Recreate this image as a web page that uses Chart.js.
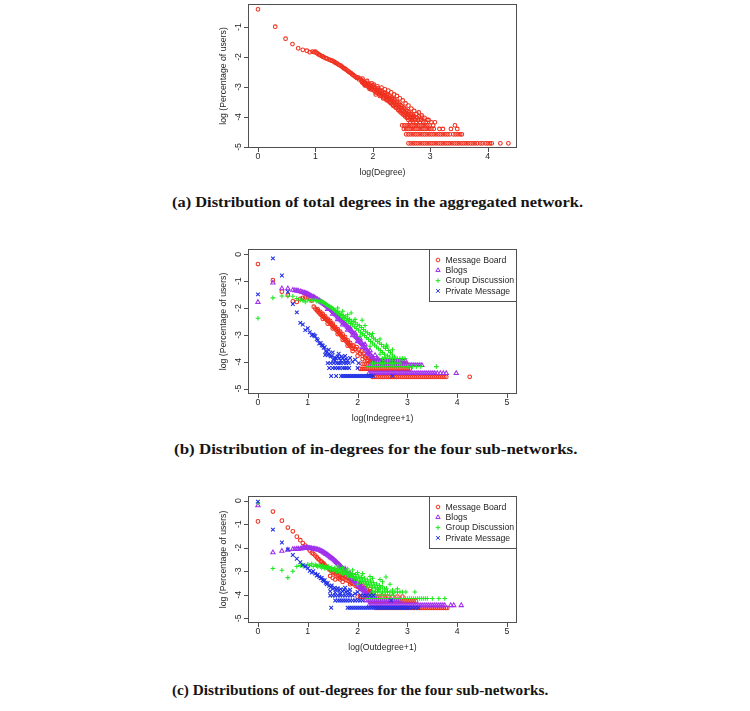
<!DOCTYPE html>
<html lang="en">
<head>
<meta charset="UTF-8">
<title>Degree distributions</title>
<script src="https://cdn.jsdelivr.net/npm/chart.js"></script>
<style>
  body { margin: 0; background: #fff; }
  #page { position: relative; width: 750px; height: 711px; overflow: hidden; background: #fff; }
  canvas { position: absolute; left: 0; }
  .cap { position: absolute; left: 172px; font-family: "Liberation Serif", "Times New Roman", serif; font-weight: bold;
         font-size: 15.5px; line-height: 20px; color: #151515; white-space: nowrap; transform-origin: 0 50%; }
</style>
</head>
<body>
<div id="page">
  <canvas id="total" width="750" height="185" style="top:0px"></canvas>
  <div class="cap" id="capA" style="top:192px">(a) Distribution of total degrees in the aggregated network.</div>
  <canvas id="indeg" width="750" height="200" style="top:235px"></canvas>
  <div class="cap" id="capB" style="top:439px; left:174px">(b) Distribution of in-degrees for the four sub-networks.</div>
  <canvas id="outdeg" width="750" height="195" style="top:482px"></canvas>
  <div class="cap" id="capC" style="top:680px">(c) Distributions of out-degrees for the four sub-networks.</div>
</div>

<script>
// ---- data (log10 values) ----
const seriesNames = ['Message Board', 'Blogs', 'Group Discussion', 'Private Message'];
const totalXTicks = [0, 1, 2, 3, 4];
const totalYTicks = [-1, -2, -3, -4, -5];
const subXTicks = [0, 1, 2, 3, 4, 5];
const subYTicks = [0, -1, -2, -3, -4, -5];

// (a) total degree
const totalPts = [[0,-0.41],[0.30,-0.99],[0.48,-1.39],[0.60,-1.57],[0.70,-1.71],[0.78,-1.76],[0.85,-1.79],[0.90,-1.84],
  [0.95,-1.82],[0.98,-1.84],[1.00,-1.82],[1.02,-1.86],[1.04,-1.89],[1.06,-1.92],[1.08,-1.94],[1.11,-1.97],[1.13,-1.99],
  [1.15,-2.01],[1.18,-2.04],[1.20,-2.05],[1.23,-2.08],[1.26,-2.10],[1.28,-2.12],[1.30,-2.13],[1.32,-2.15],[1.34,-2.18],
  [1.36,-2.20],[1.38,-2.22],[1.40,-2.25],[1.42,-2.27],[1.44,-2.29],[1.46,-2.32],[1.48,-2.35],[1.50,-2.38],[1.52,-2.40],
  [1.54,-2.43],[1.56,-2.46],[1.58,-2.49],[1.60,-2.52],[1.62,-2.54],[1.64,-2.58],[1.66,-2.60],[1.68,-2.64],[1.70,-2.66],
  [1.72,-2.70],[1.74,-2.68],[1.76,-2.75],[1.78,-2.72],
  [1.80,-2.78],[1.81,-2.84],[1.82,-2.80],[1.83,-2.87],[1.84,-2.83],[1.85,-2.90],[1.86,-2.85],[1.87,-2.93],[1.88,-2.88],
  [1.89,-2.95],[1.90,-2.86],[1.91,-2.98],[1.92,-2.92],[1.93,-3.00],[1.94,-2.90],[1.95,-3.03],[1.96,-2.96],[1.97,-3.08],
  [1.98,-2.99],[1.99,-3.05],[2.00,-2.95],[2.01,-3.10],[2.02,-3.02],[2.03,-3.14],[2.04,-3.05],[2.05,-3.18],[2.06,-3.08],
  [2.07,-3.12],[2.08,-3.20],[2.09,-3.04],[2.10,-3.15],[2.11,-3.24],[2.12,-3.10],[2.13,-3.20],[2.14,-3.28],[2.15,-3.14],
  [2.16,-3.22],[2.17,-3.32],[2.18,-3.18],[2.19,-3.26],[2.20,-3.36],[2.21,-3.20],[2.22,-3.30],[2.23,-3.40],[2.24,-3.25],
  [2.25,-3.34],[2.26,-3.45],[2.27,-3.28],[2.28,-3.38],[2.29,-3.50],[2.30,-3.32],[2.31,-3.42],[2.32,-3.55],[2.33,-3.36],
  [2.34,-3.47],[2.35,-3.60],[2.36,-3.40],[2.37,-3.52],[2.38,-3.65],[2.39,-3.45],[2.40,-3.58],[2.41,-3.70],[2.42,-3.50],
  [2.43,-3.62],[2.44,-3.76],[2.45,-3.55],[2.46,-3.68],[2.47,-3.82],[2.48,-3.60],[2.49,-3.72],[2.50,-3.88],[2.51,-3.65],
  [2.52,-3.78],[2.53,-3.92],[2.54,-3.70],[2.55,-3.84],[2.56,-3.98],[2.57,-3.75],[2.58,-3.88],[2.59,-4.03],[2.60,-3.80],
  [2.61,-3.92],[2.62,-4.10],[2.63,-3.85],[2.64,-3.98],[2.65,-4.18],[2.66,-3.90],[2.67,-4.03],[2.68,-4.10],[2.69,-3.95],
  [2.70,-4.18],[2.71,-4.05],[2.72,-3.98],[2.74,-4.10],[2.75,-4.18],[2.77,-4.03],[2.79,-4.10],[2.80,-3.98],[2.82,-4.18],
  [2.84,-4.10],[2.86,-4.03],[2.88,-4.18],
  [1.82,-2.72],[1.86,-2.95],[1.90,-2.80],[1.94,-3.06],[1.98,-2.88],[2.02,-2.92],[2.05,-3.25],[2.08,-2.98],[2.12,-3.30],
  [2.15,-3.02],[2.18,-3.38],[2.21,-3.08],[2.24,-3.44],[2.27,-3.12],[2.30,-3.52],[2.32,-3.18],[2.35,-3.62],[2.37,-3.25],
  [2.40,-3.68],[2.42,-3.30],[2.45,-3.78],[2.47,-3.38],[2.50,-3.80],[2.52,-3.45],[2.55,-3.92],[2.57,-3.55],[2.60,-4.00],
  [2.62,-3.62],[2.65,-4.05],[2.67,-3.72],[2.70,-4.00],[2.72,-3.80],[2.76,-3.90],[2.80,-3.85],[2.85,-3.95],[2.90,-4.03],
  [2.95,-4.10],[2.92,-4.18],[2.97,-4.10],[3.02,-4.18],[3.05,-4.28],[3.08,-4.18]];
const totalLevels = [-4.88, -4.58, -4.40, -4.28];
const totalRowX = [
  [2.62,2.66,2.70,2.74,2.78,2.82,2.86,2.90,2.94,2.98,3.02,3.06,3.10,3.14,3.18,3.22,3.26,3.30,3.34,3.38,3.42,3.46,3.50,
   3.54,3.58,3.62,3.66,3.70,3.74,3.78,3.82,3.87,3.91,3.96,4.00,4.04,4.07,4.22,4.36],
  [2.58,2.62,2.66,2.70,2.74,2.78,2.82,2.86,2.90,2.94,2.98,3.02,3.06,3.10,3.14,3.18,3.22,3.26,3.30,3.34,3.40,3.44,3.48,3.52,3.55],
  [2.54,2.58,2.62,2.66,2.70,2.74,2.78,2.82,2.86,2.90,2.94,2.98,3.02,3.06,3.16,3.22,3.36,3.47],
  [2.51,2.55,2.59,2.63,2.67,2.71,2.75,2.79,2.83,2.87,2.91,2.95,2.99,3.43]
];

// (b) in-degree
const inMbPts = [[0,-0.36],[0.30,-0.96],[0.48,-1.39],[0.60,-1.52],[0.70,-1.75],[0.78,-1.77],[0.85,-1.66],[0.90,-1.62],
  [0.95,-1.60],[1.00,-1.59],[1.04,-1.63],[1.08,-1.72],[1.12,-1.95],[1.15,-2.02],[1.18,-2.08],[1.20,-2.12],[1.22,-2.16],
  [1.24,-2.20],[1.26,-2.24],[1.28,-2.27],[1.30,-2.30],[1.32,-2.33],[1.34,-2.37],[1.36,-2.40],[1.38,-2.44],[1.40,-2.47],
  [1.42,-2.50],[1.44,-2.55],[1.46,-2.58],[1.48,-2.62],[1.50,-2.66],[1.52,-2.71],[1.54,-2.74],[1.56,-2.79],[1.58,-2.82],
  [1.60,-2.87],[1.62,-2.91],[1.64,-2.95],[1.66,-2.99],[1.68,-3.04],[1.70,-3.08],[1.72,-3.12],[1.74,-3.16],[1.76,-3.21],
  [1.78,-3.25],[1.80,-3.29],[1.82,-3.34],[1.84,-3.38],[1.86,-3.42],[1.88,-3.47],[1.90,-3.51],
  [1.45,-2.48],[1.55,-2.70],[1.65,-2.88],[1.75,-3.08],[1.85,-3.30],[1.92,-3.40],[1.95,-3.52],[1.98,-3.45],[2.00,-3.62],
  [2.02,-3.55],[2.05,-3.70],[2.08,-3.62],[2.10,-3.78],[2.12,-3.70],[2.15,-3.85],[2.18,-3.78],[2.20,-3.92],[2.22,-3.85],
  [2.25,-3.96],[2.28,-3.90],[2.30,-3.96],
  [1.20,-2.05],[1.25,-2.14],[1.30,-2.22],[1.35,-2.31],[1.40,-2.40],[1.50,-2.58],[1.60,-2.78],[1.70,-2.98],[1.80,-3.20],
  [1.90,-3.40],[1.30,-2.40],[1.40,-2.58],[1.50,-2.76],[1.60,-2.97],[1.70,-3.18],[1.80,-3.40],[1.90,-3.60],[2.00,-3.78],[2.10,-3.90]];
const inMbLevels = [-4.56, -4.26, -4.08, -3.96];
const inMbRowX = [
  [2.30,2.34,2.38,2.42,2.46,2.50,2.54,2.58,2.62,2.66,2.70,2.74,2.78,2.82,2.86,2.90,2.94,2.98,3.02,3.06,3.10,3.14,3.18,
   3.22,3.26,3.30,3.34,3.38,3.42,3.46,3.50,3.54,3.58,3.62,3.66,3.70,3.74,3.78,4.25],
  [2.05,2.09,2.13,2.17,2.21,2.25,2.29,2.33,2.37,2.41,2.45,2.49,2.53,2.57,2.61,2.65,2.69,2.73,2.77,2.81,2.85,2.89,2.93,2.97,3.01,3.05],
  [2.10,2.14,2.18,2.22,2.26,2.30,2.34,2.38,2.42,2.46,2.50,2.54,2.58,2.62,2.66,2.70,2.74,2.78,2.82,2.86,2.90,2.94,2.98],
  [2.20,2.28,2.36,2.44,2.52,2.60,2.70]
];
const inBlPts = [[0,-1.78],[0.30,-1.06],[0.48,-1.27],[0.60,-1.27],[0.70,-1.33],[0.74,-1.34],[0.78,-1.35],[0.81,-1.36],
  [0.85,-1.38],[0.88,-1.40],[0.90,-1.41],[0.93,-1.43],[0.95,-1.45],[0.98,-1.46],[1.00,-1.48],[1.02,-1.50],[1.04,-1.52],
  [1.06,-1.54],[1.08,-1.56],[1.11,-1.58],[1.13,-1.61],[1.15,-1.63],[1.18,-1.66],[1.20,-1.68],[1.23,-1.72],[1.26,-1.76],
  [1.28,-1.79],[1.30,-1.81],[1.32,-1.84],[1.34,-1.86],[1.36,-1.89],[1.38,-1.92],[1.40,-1.95],[1.42,-1.97],[1.44,-2.01],
  [1.46,-2.04],[1.48,-2.08],[1.50,-2.12],[1.52,-2.16],[1.54,-2.20],[1.56,-2.24],[1.58,-2.28],[1.60,-2.32],[1.62,-2.36],
  [1.64,-2.40],[1.66,-2.43],[1.68,-2.47],[1.70,-2.51],[1.72,-2.55],[1.74,-2.58],[1.76,-2.62],[1.78,-2.66],[1.80,-2.70],
  [1.82,-2.74],[1.84,-2.78],[1.86,-2.82],[1.88,-2.86],[1.90,-2.91],[1.92,-2.95],[1.94,-3.00],[1.96,-3.04],[1.98,-3.09],
  [2.00,-3.13],[2.02,-3.18],[2.04,-3.22],[2.06,-3.27],[2.08,-3.31],[2.10,-3.36],[2.12,-3.40],[2.14,-3.45],[2.16,-3.50],
  [2.18,-3.55],[2.20,-3.60],[2.22,-3.64],[2.24,-3.70],[2.26,-3.74],[2.28,-3.80],[2.30,-3.84],[2.32,-3.90],[2.34,-3.95],
  [2.36,-4.00],[1.85,-2.74],[1.95,-2.94],[2.05,-3.14],[2.15,-3.36],[2.25,-3.58],[2.35,-3.76],[2.40,-3.88],[2.45,-3.98],[2.50,-4.05],
  [1.40,-2.04],[1.50,-2.22],[1.60,-2.42],[1.70,-2.62],[1.80,-2.82],[1.90,-3.02],[2.00,-3.24],[2.10,-3.46],[2.20,-3.70]];
const inBlLevels = [-4.43, -4.13, -3.96];
const inBlRowX = [
  [2.23,2.27,2.31,2.35,2.39,2.43,2.47,2.51,2.55,2.59,2.63,2.67,2.71,2.75,2.79,2.83,2.87,2.91,2.95,2.99,3.03,3.07,3.11,
   3.15,3.19,3.23,3.27,3.31,3.35,3.39,3.43,3.47,3.51,3.55,3.60,3.66,3.72,3.78,3.98],
  [2.25,2.29,2.33,2.37,2.41,2.45,2.49,2.53,2.57,2.61,2.65,2.69,2.73,2.77,2.81,2.85,2.89,2.93,2.97,3.01,3.05,3.09,3.13,3.17,3.21,3.25,3.29],
  [2.36,2.40,2.44,2.48,2.52,2.56,2.60,2.64,2.68,2.72,2.76,2.80,2.84,2.88,2.92,2.96]
];
const inGdPts = [[0,-2.38],[0.30,-1.62],[0.48,-1.55],[0.60,-1.56],[0.70,-1.56],[0.78,-1.64],[0.85,-1.70],[0.90,-1.72],
  [0.95,-1.77],[1.00,-1.70],[1.04,-1.72],[1.08,-1.70],[1.11,-1.72],[1.15,-1.70],[1.18,-1.74],[1.20,-1.72],[1.23,-1.76],
  [1.26,-1.74],[1.28,-1.78],[1.30,-1.77],[1.32,-1.80],[1.34,-1.82],[1.36,-1.85],[1.38,-1.87],[1.40,-1.90],[1.42,-1.92],
  [1.44,-1.94],[1.46,-1.97],[1.48,-1.98],[1.50,-2.01],[1.52,-2.04],[1.54,-2.08],[1.56,-2.10],[1.58,-2.15],[1.60,-2.12],
  [1.62,-2.22],[1.64,-2.18],[1.66,-2.28],[1.68,-2.24],[1.70,-2.36],[1.72,-2.28],[1.74,-2.40],[1.76,-2.32],[1.78,-2.46],
  [1.80,-2.38],[1.82,-2.52],[1.84,-2.42],[1.86,-2.58],[1.87,-2.18],[1.88,-2.48],[1.90,-2.62],[1.92,-2.50],[1.94,-2.70],
  [1.96,-2.55],[1.98,-2.76],[2.00,-2.62],[2.02,-2.82],[2.04,-2.66],[2.06,-2.90],[2.08,-2.72],[2.09,-2.45],[2.10,-2.96],
  [2.12,-2.80],[2.14,-3.02],[2.16,-2.86],[2.18,-3.10],[2.20,-2.92],[2.22,-3.16],[2.24,-2.98],[2.26,-3.24],[2.28,-3.05],
  [2.30,-3.30],[2.32,-3.12],[2.34,-3.38],[2.36,-3.18],[2.38,-3.45],[2.40,-3.24],[2.42,-3.52],[2.44,-3.30],[2.46,-3.58],
  [2.48,-3.36],[2.50,-3.65],[2.52,-3.44],[2.54,-3.72],[2.56,-3.50],[2.58,-3.38],[2.60,-3.78],[2.62,-3.58],[2.64,-3.82],
  [2.66,-3.66],[2.70,-3.75],[2.74,-3.82],
  [1.60,-2.00],[1.70,-2.12],[1.80,-2.25],[1.95,-2.42],[2.15,-2.65],[2.30,-2.95],[2.45,-3.15],[2.60,-3.45],[2.70,-3.55],
  [2.05,-3.05],[2.25,-3.42],[2.45,-3.72],[2.55,-3.85]];
const inGdLevels = [-4.18, -4.05, -3.88];
const inGdRowX = [
  [2.20,2.24,2.28,2.32,2.36,2.40,2.44,2.48,2.52,2.56,2.60,2.64,2.68,2.72,2.76,2.80,2.84,2.88,2.92,2.96,3.00,3.03,3.10,3.18,3.27,3.58],
  [2.30,2.35,2.40,2.45,2.50,2.55,2.60,2.65,2.70,2.75,2.80,2.85],
  [2.50,2.55,2.60,2.65,2.70,2.75,2.80,2.85,2.90,2.95]
];
const inPmPts = [[0,-1.49],[0.30,-0.15],[0.48,-0.79],[0.60,-1.39],[0.70,-1.85],[0.78,-2.16],[0.85,-2.55],[0.90,-2.61],
  [0.95,-2.82],[1.00,-2.75],[1.04,-2.90],[1.08,-3.01],[1.11,-2.98],[1.13,-3.02],[1.15,-3.05],[1.18,-3.15],[1.20,-3.20],
  [1.23,-3.32],[1.26,-3.30],[1.28,-3.38],[1.30,-3.40],[1.32,-3.48],[1.34,-3.46],[1.36,-3.60],[1.38,-3.64],[1.40,-3.76],
  [1.43,-3.70],[1.46,-3.80],[1.48,-3.78],[1.51,-3.92],[1.54,-3.84],[1.57,-3.88],[1.60,-3.80],[1.63,-3.86],[1.66,-3.96],
  [1.70,-3.86],[1.73,-3.94],[1.77,-3.90],
  [1.35,-3.75],[1.42,-3.55],[1.50,-3.65],[1.55,-3.95],[1.62,-3.70],[1.68,-3.80],[1.75,-3.78],[1.80,-3.95],[1.85,-3.86],
  [1.90,-4.00],[1.95,-3.92],[2.02,-4.05]];
const inPmLevels = [-4.53, -4.23, -4.05];
const inPmRowX = [
  [1.47,1.57,1.67,1.71,1.75,1.79,1.83,1.87,1.91,1.95,1.99,2.03,2.07,2.11,2.15,2.19,2.23,2.27,2.31,2.70],
  [1.43,1.50,1.55,1.60,1.64,1.70,1.74,1.78,1.83,2.00],
  [1.40,1.46,1.52,1.58,1.62,1.66,1.72,1.77,1.82]
];

// (c) out-degree
const outMbPts = [[0,-0.88],[0.30,-0.46],[0.48,-0.85],[0.60,-1.14],[0.70,-1.30],[0.78,-1.53],[0.85,-1.68],[0.90,-1.80],
  [0.95,-1.91],[1.00,-2.02],[1.04,-2.12],[1.08,-2.21],[1.11,-2.26],[1.15,-2.33],[1.18,-2.40],[1.20,-2.46],[1.23,-2.50],
  [1.26,-2.58],[1.28,-2.60],[1.30,-2.66],[1.32,-2.68],[1.34,-2.74],[1.36,-2.78],[1.38,-2.82],[1.40,-2.86],[1.42,-2.88],
  [1.44,-2.93],[1.46,-2.97],[1.48,-2.96],[1.50,-3.02],[1.52,-3.06],[1.54,-3.00],[1.56,-3.12],[1.58,-3.05],[1.60,-3.18],
  [1.62,-3.08],[1.64,-3.22],[1.66,-3.12],[1.68,-3.28],[1.70,-3.15],[1.72,-3.30],[1.74,-3.20],[1.76,-3.36],[1.78,-3.24],
  [1.80,-3.40],[1.82,-3.28],[1.84,-3.45],[1.86,-3.33],[1.88,-3.50],[1.90,-3.38],[1.92,-3.55],[1.94,-3.44],[1.96,-3.62],
  [1.98,-3.50],[2.00,-3.66],[2.02,-3.56],[2.05,-3.72],[2.08,-3.62],[2.10,-3.78],[2.13,-3.70],[2.16,-3.85],[2.19,-3.78],
  [2.22,-3.92],[2.25,-3.86],[2.28,-3.96],[2.32,-3.92],[1.45,-3.20],[1.50,-3.28],[1.55,-3.35],[1.62,-3.30],[1.70,-3.45],
  [1.55,-2.95],[1.65,-3.35],[1.75,-3.10],[1.85,-3.55],[1.95,-3.30],[2.05,-3.55],[2.15,-3.62],[2.25,-3.75]];
const outMbLevels = [-4.56, -4.27, -4.08];
const outMbRowX = [
  [2.37,2.41,2.45,2.49,2.53,2.57,2.61,2.65,2.69,2.73,2.77,2.81,2.85,2.89,2.93,2.97,3.01,3.05,3.09,3.13,3.17,3.21,3.25,
   3.29,3.33,3.37,3.41,3.45,3.49,3.53,3.57,3.61,3.65,3.69,3.73,3.77,3.80],
  [2.25,2.29,2.33,2.37,2.41,2.45,2.49,2.53,2.57,2.61,2.65,2.69,2.73,2.77,2.81,2.85,2.89,2.93,2.97,3.01,3.05,3.09,3.13,3.17],
  [2.00,2.05,2.10,2.15,2.20,2.25,2.30,2.35,2.40,2.45,2.50,2.55,2.60,2.70,2.80,2.90]
];
const outBlPts = [[0,-0.20],[0.30,-2.20],[0.48,-2.14],[0.60,-2.09],[0.70,-2.06],[0.74,-2.06],[0.78,-2.05],[0.81,-2.05],
  [0.85,-2.04],[0.88,-2.03],[0.90,-2.02],[0.93,-2.00],[0.95,-2.01],[0.98,-1.99],[1.00,-2.00],[1.02,-2.02],[1.04,-2.01],
  [1.06,-2.03],[1.08,-2.02],[1.11,-2.04],[1.13,-2.05],[1.15,-2.06],[1.18,-2.07],[1.20,-2.08],[1.23,-2.10],[1.26,-2.13],
  [1.28,-2.15],[1.30,-2.17],[1.32,-2.20],[1.34,-2.22],[1.36,-2.26],[1.38,-2.28],[1.40,-2.31],[1.42,-2.34],[1.44,-2.37],
  [1.46,-2.41],[1.48,-2.44],[1.50,-2.47],[1.52,-2.50],[1.54,-2.54],[1.56,-2.58],[1.58,-2.62],[1.60,-2.66],[1.62,-2.70],
  [1.64,-2.74],[1.66,-2.78],[1.68,-2.83],[1.70,-2.87],[1.72,-2.92],[1.74,-2.96],[1.76,-3.01],[1.78,-3.05],[1.80,-3.10],
  [1.82,-3.14],[1.84,-3.19],[1.86,-3.23],[1.88,-3.28],[1.90,-3.33],[1.92,-3.37],[1.94,-3.42],[1.96,-3.46],[1.98,-3.51],
  [2.00,-3.56],[2.02,-3.60],[2.04,-3.65],[2.06,-3.69],[2.08,-3.74],[2.10,-3.78],[2.12,-3.83],[2.14,-3.87],[2.16,-3.92],
  [2.18,-3.96],[2.20,-4.00],[2.22,-4.04],[2.25,-4.10],[2.28,-4.15],
  [1.75,-2.90],[1.85,-3.10],[1.95,-3.30],[2.05,-3.52],[2.15,-3.74],[2.25,-3.94],[2.35,-4.06]];
const outBlLevels = [-4.45, -4.24];
const outBlRowX = [
  [2.23,2.27,2.31,2.35,2.39,2.43,2.47,2.51,2.55,2.59,2.63,2.67,2.71,2.75,2.79,2.83,2.87,2.91,2.95,2.99,3.03,3.07,3.11,
   3.15,3.19,3.23,3.27,3.31,3.35,3.39,3.43,3.47,3.51,3.55,3.59,3.63,3.67,3.71,3.75,3.87,3.93,4.08],
  [2.17,2.21,2.25,2.29,2.33,2.37,2.41,2.45,2.49,2.53,2.57,2.61,2.65,2.69,2.73,2.77,2.81,2.85]
];
const outGdPts = [[0,-0.10],[0.30,-2.88],[0.48,-2.96],[0.60,-3.27],[0.70,-3.00],[0.78,-2.80],[0.85,-2.76],[0.90,-2.74],
  [0.95,-2.78],[1.00,-2.70],[1.04,-2.75],[1.08,-2.68],[1.11,-2.80],[1.15,-2.72],[1.18,-2.76],[1.20,-2.82],[1.23,-2.74],
  [1.26,-2.80],[1.28,-2.86],[1.30,-2.76],[1.32,-2.82],[1.34,-2.88],[1.36,-2.78],[1.38,-2.85],[1.40,-2.90],[1.42,-2.80],
  [1.44,-2.88],[1.46,-2.94],[1.48,-2.84],[1.50,-2.92],[1.52,-2.98],[1.54,-2.86],[1.56,-2.95],[1.58,-3.02],[1.60,-2.90],
  [1.62,-2.98],[1.64,-3.06],[1.66,-2.92],[1.68,-3.02],[1.70,-3.10],[1.72,-2.96],[1.74,-3.06],[1.76,-3.14],[1.78,-3.00],
  [1.80,-3.12],[1.82,-3.20],[1.84,-3.04],[1.86,-3.16],[1.88,-3.26],[1.90,-3.10],[1.92,-3.22],[1.94,-3.32],[1.96,-3.14],
  [1.98,-3.28],[2.00,-3.38],[2.02,-3.20],[2.04,-3.32],[2.06,-3.44],[2.08,-3.26],[2.10,-3.38],[2.12,-3.50],[2.14,-3.30],
  [2.16,-3.44],[2.18,-3.56],[2.20,-3.36],[2.22,-3.50],[2.24,-3.62],[2.26,-3.42],[2.28,-3.55],[2.30,-3.68],[2.32,-3.48],
  [2.34,-3.62],[2.36,-3.74],[2.38,-3.54],[2.40,-3.68],[2.42,-3.78],[2.44,-3.60],[2.46,-3.72],[2.50,-3.66],[2.54,-3.76],
  [2.58,-3.72],[2.00,-3.05],[2.25,-3.22],[2.57,-3.24],[2.45,-3.35],
  [1.60,-2.78],[1.70,-2.85],[1.80,-2.90],[1.90,-2.95],[2.00,-3.55],[2.10,-3.10],[2.20,-3.70],[2.30,-3.30],[2.40,-3.85],
  [2.50,-3.45],[2.60,-3.85],[2.65,-3.55],[2.70,-3.80],[2.80,-3.75]];
const outGdLevels = [-4.16, -4.02, -3.88];
const outGdRowX = [
  [2.20,2.24,2.28,2.32,2.36,2.40,2.44,2.48,2.52,2.56,2.60,2.64,2.68,2.72,2.76,2.80,2.84,2.88,2.92,2.96,3.00,3.04,3.08,
   3.12,3.16,3.20,3.24,3.28,3.32,3.36,3.40,3.50,3.63,3.75],
  [2.25,2.32,2.40,2.48,2.56,2.64,2.72],
  [2.30,2.35,2.40,2.45,2.50,2.55,2.60,2.65,2.70,2.75,2.80,2.85,2.90,2.97,3.15]
];
const outPmPts = [[0,-0.04],[0.30,-1.23],[0.48,-1.78],[0.60,-2.07],[0.70,-2.31],[0.78,-2.47],[0.85,-2.62],[0.90,-2.74],
  [0.95,-2.80],[1.00,-2.87],[1.04,-2.98],[1.08,-3.05],[1.11,-3.00],[1.15,-3.10],[1.18,-3.18],[1.20,-3.15],[1.23,-3.24],
  [1.26,-3.30],[1.28,-3.28],[1.30,-3.37],[1.32,-3.42],[1.34,-3.38],[1.36,-3.49],[1.38,-3.55],[1.40,-3.50],[1.43,-3.62],
  [1.46,-3.68],[1.48,-3.60],[1.51,-3.74],[1.54,-3.70],[1.57,-3.78],[1.60,-3.72],[1.63,-3.82],[1.66,-3.76],[1.70,-3.85],
  [1.73,-3.80],[1.77,-3.88],[1.80,-3.84],[1.84,-3.92],
  [1.45,-3.85],[1.55,-3.90],[1.65,-3.95],[1.75,-3.70],[1.85,-3.78],[1.95,-3.95],[2.00,-3.88]];
const outPmLevels = [-4.55, -4.24, -4.03];
const outPmRowX = [
  [1.47,1.80,1.84,1.88,1.92,1.96,2.00,2.04,2.08,2.12,2.16,2.20,2.24,2.28,2.32,2.36,2.40,2.44,2.48,2.52,2.56,2.60,2.64,
   2.68,2.72,2.76,2.80,2.84,2.88,2.92,2.96,3.00,3.04,3.10,3.16,3.22],
  [1.55,1.60,1.64,1.68,1.72,1.76,1.80,1.85,1.90,1.95,2.00,2.05,2.10,2.67],
  [1.45,1.50,1.55,1.60,1.65,1.70,1.75,1.80,1.85,1.90,2.06,2.12,2.18,2.25,2.32]
];

// ---- styles ----
const looks = [
  { color: '#f0301e', style: 'circle',   r: 1.85 },
  { color: '#a030ec', style: 'triangle', r: 2.5 },
  { color: '#1ee81e', style: 'cross',    r: 2.3 },
  { color: '#2030e6', style: 'crossRot', r: 2.6 }
];

function withRows(pts, levels, rows) {
  const out = pts.map(p => ({ x: p[0], y: p[1] }));
  levels.forEach((lv, i) => rows[i].forEach(x => out.push({ x: x, y: lv })));
  return out;
}

function makeSet(label, data, look, order) {
  return {
    label: label, data: data, order: order, showLine: false,
    pointStyle: look.style, pointRadius: look.r, pointHoverRadius: look.r,
    pointBorderColor: look.color, pointBackgroundColor: 'rgba(0,0,0,0)', pointBorderWidth: 1.05
  };
}

// R-like frame, ticks, labels and legend
const rAxes = {
  id: 'rAxes',
  afterDraw(chart, args, o) {
    const { ctx, chartArea: a } = chart;
    const sx = chart.scales.x, sy = chart.scales.y;
    const font = '8.7px "Liberation Sans", Arial, sans-serif';
    ctx.save();
    ctx.strokeStyle = '#505050';
    ctx.lineWidth = 1;
    ctx.strokeRect(a.left + 0.5, a.top + 0.5, a.right - a.left - 1, a.bottom - a.top - 1);
    ctx.beginPath();
    o.xTicks.forEach(v => {
      const px = Math.round(sx.getPixelForValue(v)) + 0.5;
      ctx.moveTo(px, a.bottom); ctx.lineTo(px, a.bottom + 4);
    });
    o.yTicks.forEach(v => {
      const py = Math.round(sy.getPixelForValue(v)) + 0.5;
      ctx.moveTo(a.left, py); ctx.lineTo(a.left - 4, py);
    });
    ctx.stroke();

    ctx.fillStyle = '#262626';
    ctx.font = font;
    ctx.textAlign = 'center';
    ctx.textBaseline = 'middle';
    o.xTicks.forEach(v => ctx.fillText(String(v), sx.getPixelForValue(v), a.bottom + 9));
    o.yTicks.forEach(v => {
      ctx.save();
      ctx.translate(a.left - 9, sy.getPixelForValue(v));
      ctx.rotate(-Math.PI / 2);
      ctx.fillText(String(v), 0, 0);
      ctx.restore();
    });
    ctx.fillText(o.xTitle, (a.left + a.right) / 2, a.bottom + 24.5);
    ctx.save();
    ctx.translate(224, (a.top + a.bottom) / 2);
    ctx.rotate(-Math.PI / 2);
    ctx.fillText(o.yTitle, 0, 0);
    ctx.restore();

    if (o.legend) {
      const bx = 429, by = a.top;
      ctx.strokeStyle = '#505050';
      ctx.strokeRect(bx + 0.5, by + 0.5, a.right - bx - 1, 52);
      ctx.textAlign = 'left';
      chart.data.datasets.forEach((ds, i) => {
        const yy = by + 11 + i * 10.3;
        ctx.save();
        ctx.strokeStyle = ds.pointBorderColor;
        ctx.fillStyle = 'rgba(0,0,0,0)';
        ctx.lineWidth = 1;
        Chart.helpers.drawPoint(ctx, { pointStyle: ds.pointStyle, radius: ds.pointRadius, borderWidth: 1, rotation: 0 }, 438, yy);
        ctx.restore();
        ctx.fillText(ds.label, 445.5, yy + 0.5);
      });
    }
    ctx.restore();
  }
};

function makeChart(id, datasets, o) {
  const c = document.getElementById(id);
  return new Chart(c.getContext('2d'), {
    type: 'scatter',
    data: { datasets: datasets },
    options: {
      responsive: false, animation: false, devicePixelRatio: 1, events: [],
      layout: { padding: { left: 248, right: 233, top: o.top, bottom: o.bottom } },
      scales: {
        x: { type: 'linear', display: false, min: o.xMin, max: o.xMax },
        y: { type: 'linear', display: false, min: o.yMin, max: o.yMax }
      },
      plugins: { legend: { display: false }, tooltip: { enabled: false }, rAxes: o }
    },
    plugins: [rAxes]
  });
}

makeChart('total', [makeSet('Total', withRows(totalPts, totalLevels, totalRowX), looks[0], 1)], {
  top: 4, bottom: 37, xMin: -0.174, xMax: 4.51, yMin: -5.035, yMax: -0.232,
  xTicks: totalXTicks, yTicks: totalYTicks, xTitle: 'log(Degree)', yTitle: 'log (Percentage of users)', legend: false
});

makeChart('indeg', [
  makeSet(seriesNames[0], withRows(inMbPts, inMbLevels, inMbRowX), looks[0], 4),
  makeSet(seriesNames[1], withRows(inBlPts, inBlLevels, inBlRowX), looks[1], 3),
  makeSet(seriesNames[2], withRows(inGdPts, inGdLevels, inGdRowX), looks[2], 2),
  makeSet(seriesNames[3], withRows(inPmPts, inPmLevels, inPmRowX), looks[3], 1)
], {
  top: 14, bottom: 41, xMin: -0.2, xMax: 5.2, yMin: -5.2, yMax: 0.2,
  xTicks: subXTicks, yTicks: subYTicks, xTitle: 'log(Indegree+1)', yTitle: 'log (Percentage of users)', legend: true
});

makeChart('outdeg', [
  makeSet(seriesNames[0], withRows(outMbPts, outMbLevels, outMbRowX), looks[0], 4),
  makeSet(seriesNames[1], withRows(outBlPts, outBlLevels, outBlRowX), looks[1], 3),
  makeSet(seriesNames[2], withRows(outGdPts, outGdLevels, outGdRowX), looks[2], 2),
  makeSet(seriesNames[3], withRows(outPmPts, outPmLevels, outPmRowX), looks[3], 1)
], {
  top: 14, bottom: 54, xMin: -0.2, xMax: 5.2, yMin: -5.2, yMax: 0.2,
  xTicks: subXTicks, yTicks: subYTicks, xTitle: 'log(Outdegree+1)', yTitle: 'log (Percentage of users)', legend: true
});

// fit captions to their printed widths
[['capA', 411], ['capB', 403], ['capC', 376]].forEach(([id, w]) => {
  const el = document.getElementById(id);
  el.style.transform = 'scaleX(' + (w / el.offsetWidth).toFixed(3) + ')';
});
</script>
</body>
</html>
